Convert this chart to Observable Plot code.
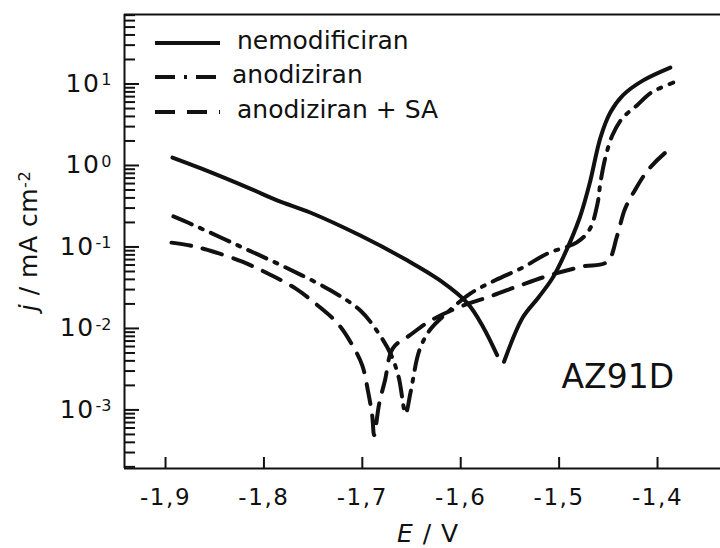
<!DOCTYPE html>
<html>
<head>
<meta charset="utf-8">
<script src="https://cdn.jsdelivr.net/npm/d3@7"></script>
<script src="https://cdn.jsdelivr.net/npm/@observablehq/plot@0.6"></script>
<style>
  html, body { margin: 0; padding: 0; background: #fff; }
  #chart { width: 720px; height: 548px; }
  svg { font-family: "DejaVu Sans", sans-serif; }
</style>
</head>
<body>
<div id="chart"></div>
<script>
// ---- Data ----
const seriesNames = ["nemodificiran", "anodiziran", "anodiziran + SA"];

// nemodificiran: cathodic branch
const E_nemod_cat = [-1.893, -1.864, -1.814, -1.786, -1.753, -1.702, -1.654, -1.621, -1.593, -1.577, -1.563];
const j_nemod_cat = [1.25, 0.92, 0.52, 0.37, 0.265, 0.138, 0.068, 0.0388, 0.0203, 0.0103, 0.0047];
// nemodificiran: anodic branch
const E_nemod_an = [-1.556, -1.537, -1.521, -1.507, -1.496, -1.479, -1.469, -1.458, -1.448, -1.435, -1.415, -1.387];
const j_nemod_an = [0.0039, 0.0136, 0.024, 0.041, 0.074, 0.23, 0.6, 2.2, 4.47, 7.3, 11, 15.9];

// anodiziran
const E_anod = [-1.892, -1.873, -1.826, -1.780, -1.732, -1.702, -1.684, -1.671, -1.663, -1.656,
                -1.651, -1.642, -1.631, -1.616, -1.590, -1.565, -1.537, -1.512, -1.482, -1.469,
                -1.461, -1.458, -1.453, -1.446, -1.436, -1.421, -1.406, -1.384];
const j_anod = [0.237, 0.189, 0.104, 0.0576, 0.0292, 0.0166, 0.0089, 0.0048, 0.0025, 0.00091,
                0.00164, 0.0054, 0.0097, 0.0148, 0.0269, 0.039, 0.056, 0.083, 0.114, 0.164,
                0.34, 0.62, 1.25, 2.33, 3.77, 5.45, 7.9, 10.4];

// anodiziran + SA
const E_anodSA = [-1.894, -1.875, -1.852, -1.822, -1.794, -1.768, -1.745, -1.725, -1.711, -1.700,
                  -1.694, -1.690, -1.688, -1.683, -1.677, -1.669, -1.652, -1.630, -1.600, -1.570,
                  -1.537, -1.507, -1.476, -1.451, -1.441, -1.433, -1.422, -1.410, -1.392, -1.385];
const j_anodSA = [0.113, 0.104, 0.088, 0.066, 0.046, 0.031, 0.019, 0.0115, 0.0065, 0.0035,
                  0.00164, 0.00086, 0.00049, 0.00117, 0.0023, 0.0057, 0.0082, 0.0126, 0.0186, 0.0247,
                  0.0347, 0.046, 0.0576, 0.066, 0.138, 0.295, 0.52, 0.87, 1.44, 1.66];

const xTicks = [-1.9, -1.8, -1.7, -1.6, -1.5, -1.4];
const yMajorTicks = [1e-3, 1e-2, 1e-1, 1, 10];
const xDomain = [-1.9417, -1.336];
const yDomain = [1.91e-4, 71.3];

// ---- Build tables ----
const toRows = (Es, js, branch) => Es.map((E, i) => ({E, j: js[i], branch}));
const solidRows = [...toRows(E_nemod_cat, j_nemod_cat, "c"), ...toRows(E_nemod_an, j_nemod_an, "a")];
const dashDotRows = toRows(E_anod, j_anod, "all");
const dashedRows = toRows(E_anodSA, j_anodSA, "all");

const yMinorTicks = [];
for (let e = -4; e <= 1; e++) for (let k = 2; k <= 9; k++) {
  const v = k * Math.pow(10, e);
  if (v >= yDomain[0] && v <= yDomain[1]) yMinorTicks.push(v);
}

const dashDot = "20,9,3,9";
const dashed = "20,12";

const svg = Plot.plot({
  width: 720,
  height: 548,
  marginLeft: 124,
  marginRight: 0,
  marginTop: 14,
  marginBottom: 80,
  style: {fontFamily: "DejaVu Sans, sans-serif", fontSize: "23px", color: "#111", background: "#fff"},
  x: {domain: xDomain, label: null},
  y: {type: "log", domain: yDomain, label: null},
  marks: [
    Plot.ruleY([yDomain[1]], {stroke: "#111", strokeWidth: 2}),
    Plot.ruleY([yDomain[0]], {stroke: "#111", strokeWidth: 2}),
    Plot.ruleX([xDomain[0]], {stroke: "#111", strokeWidth: 2}),
    Plot.axisY(yMinorTicks, {tickSize: -11, tickFormat: () => "", strokeWidth: 2, stroke: "#111"}),
    Plot.axisY(yMajorTicks, {tickSize: -15, tickFormat: () => "", strokeWidth: 2, stroke: "#111"}),
    Plot.axisY(yMajorTicks, {tickSize: 0, tickPadding: 13, fontSize: 25,
      tickFormat: d => "10|" + Math.round(Math.log10(d))}),
    Plot.axisX(xTicks, {tickSize: -11, tickFormat: () => "", strokeWidth: 2, stroke: "#111"}),
    Plot.axisX(xTicks, {tickSize: 0, tickPadding: 20, fontSize: 23,
      tickFormat: d => d.toFixed(1).replace(".", ",")}),
    Plot.line(solidRows, {x: "E", y: "j", z: "branch", stroke: "#111", strokeWidth: 4, curve: "catmull-rom"}),
    Plot.line(dashDotRows, {x: "E", y: "j", stroke: "#111", strokeWidth: 4, strokeDasharray: dashDot, curve: "catmull-rom"}),
    Plot.line(dashedRows, {x: "E", y: "j", stroke: "#111", strokeWidth: 4, strokeDasharray: dashed, curve: "catmull-rom"}),
    Plot.text(["AZ91D"], {frameAnchor: "top-left", dx: 437, dy: 373, text: d => d,
      fontSize: 33, textAnchor: "start", lineAnchor: "bottom", fill: "#111"})
  ]
});

const root = d3.select(svg);

// widen tick labels slightly (reference type is set wide)
root.selectAll('g[aria-label="x-axis tick label"] text').attr("letter-spacing", "1.6px");

// superscript exponents on y tick labels
root.selectAll('g[aria-label="y-axis tick label"] text').each(function () {
  const t = d3.select(this);
  const s = t.text() || "";
  if (s.indexOf("|") < 0) return;
  const parts = s.split("|");
  t.text("");
  t.append("tspan").attr("letter-spacing", "1.5px").text(parts[0]);
  t.append("tspan").attr("dy", "-0.42em").attr("font-size", "0.64em").attr("dx", "1").text(parts[1]);
});

// axis titles
const yl = root.append("text")
  .attr("transform", "translate(37,241) rotate(-90)")
  .attr("text-anchor", "middle")
  .attr("font-size", 25)
  .attr("letter-spacing", "0.5px")
  .attr("fill", "#111");
yl.append("tspan").attr("font-style", "italic").text("j");
yl.append("tspan").text(" / mA cm");
yl.append("tspan").attr("dy", "-0.45em").attr("font-size", "0.65em").text("-2");

const xl = root.append("text")
  .attr("x", 428).attr("y", 542)
  .attr("text-anchor", "middle")
  .attr("font-size", 25)
  .attr("letter-spacing", "1px")
  .attr("fill", "#111");
xl.append("tspan").attr("font-style", "italic").text("E");
xl.append("tspan").text(" / V");

// legend
const legendItems = [
  {name: seriesNames[0], dash: null, sw: 4, ly: 43, tx: 237},
  {name: seriesNames[1], dash: dashDot, sw: 4, ly: 77, tx: 232},
  {name: seriesNames[2], dash: dashed, sw: 4, ly: 112, tx: 237}
];
const lg = root.append("g").attr("aria-label", "legend");
legendItems.forEach(it => {
  lg.append("line").attr("x1", 155).attr("x2", 220).attr("y1", it.ly).attr("y2", it.ly)
    .attr("stroke", "#111").attr("stroke-width", it.sw)
    .attr("stroke-dasharray", it.dash);
  lg.append("text").attr("x", it.tx).attr("y", it.ly + 6)
    .attr("text-anchor", "start")
    .attr("font-size", 25).attr("fill", "#111").text(it.name);
});

document.getElementById("chart").appendChild(svg);
</script>
</body>
</html>
